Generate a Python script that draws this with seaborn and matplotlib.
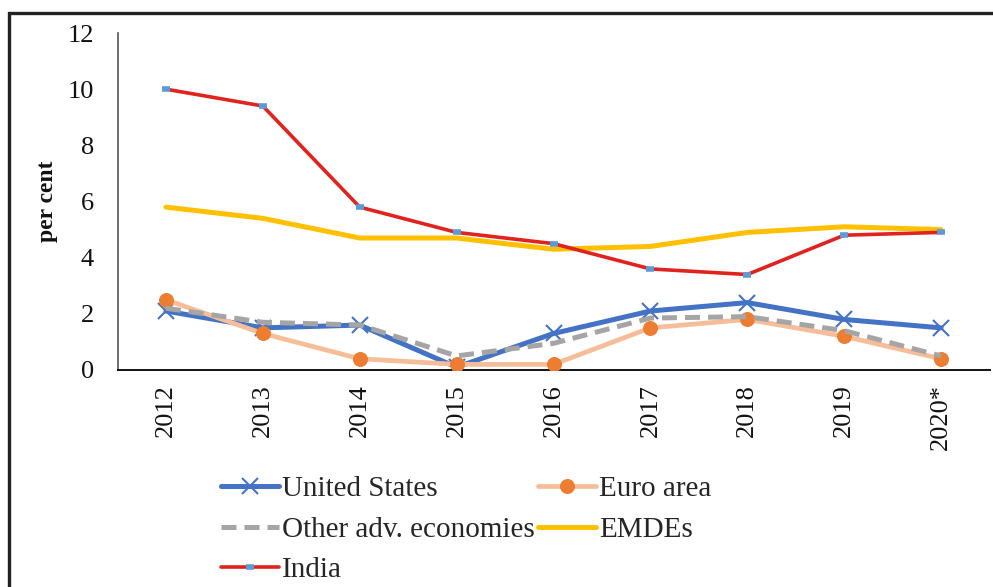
import matplotlib
matplotlib.use("Agg")
import matplotlib.pyplot as plt
from matplotlib.patches import Rectangle
import seaborn as sns
import pandas as pd

years = ["2012", "2013", "2014", "2015", "2016", "2017", "2018", "2019", "2020*"]
united_states = [2.1, 1.5, 1.6, 0.1, 1.3, 2.1, 2.4, 1.8, 1.5]
euro_area = [2.5, 1.3, 0.4, 0.2, 0.2, 1.5, 1.8, 1.2, 0.4]
other_adv = [2.2, 1.7, 1.6, 0.5, 0.95, 1.85, 1.9, 1.4, 0.5]
emdes = [5.8, 5.4, 4.7, 4.7, 4.3, 4.4, 4.9, 5.1, 5.0]
india = [10.0, 9.4, 5.8, 4.9, 4.5, 3.6, 3.4, 4.8, 4.9]
y_ticks = [0, 2, 4, 6, 8, 10, 12]

sns.set_theme(style="white")
plt.rcParams["font.family"] = ["Liberation Serif", "DejaVu Serif"]

fig = plt.figure(figsize=(9.93, 5.87), dpi=100)
fig.patch.set_facecolor("white")
ax = fig.add_axes([117.5 / 993, 1 - 370 / 587, 872 / 993, 337 / 587])

df = pd.DataFrame({"year": years, "United States": united_states,
                   "Euro area": euro_area, "Other adv. economies": other_adv,
                   "EMDEs": emdes, "India": india})

sns.lineplot(data=df, x="year", y="United States", ax=ax, color="#4472C4",
             lw=3.6, marker="x", markersize=12, mew=1.5, mec="#4472C4",
             zorder=3, label="United States", sort=False)
sns.lineplot(data=df, x="year", y="Euro area", ax=ax, color="#F6BE98",
             lw=3.4, marker="o", markersize=10, mfc="#ED7D31", mec="#ED7D31",
             zorder=4, label="Euro area", sort=False)
sns.lineplot(data=df, x="year", y="Other adv. economies", ax=ax, color="#A5A5A5",
             lw=3.6, dashes=(3, 1.6), zorder=4.5, label="Other adv. economies", sort=False)
sns.lineplot(data=df, x="year", y="EMDEs", ax=ax, color="#FFC000",
             lw=3.6, zorder=5, label="EMDEs", sort=False)
sns.lineplot(data=df, x="year", y="India", ax=ax, color="#E0231E",
             lw=2.6, marker="_", markersize=6, mew=4, mec="#5B9BD5",
             zorder=6, label="India", sort=False)

ax.set_xlim(-0.5, len(years) - 0.5)
ax.set_ylim(0, 12)
ax.set_yticks(y_ticks)
ax.set_yticklabels([str(v) for v in y_ticks], fontsize=19)
ax.set_xticks(range(len(years)))
ax.set_xticklabels(years, rotation=90, fontsize=19)
ax.tick_params(axis="y", length=0, pad=17, colors="#111111")
ax.tick_params(axis="x", length=0, pad=10, colors="#111111")
ax.set_xlabel("")
ax.set_ylabel("per cent", fontsize=17, fontweight="bold", color="#111111")
ax.yaxis.set_label_coords(-0.068, 0.5)
ax.grid(False)
ax.set_facecolor("white")
for s in ["top", "right"]:
    ax.spines[s].set_visible(False)
ax.spines["left"].set_color("#555555")
ax.spines["left"].set_linewidth(1.2)
ax.spines["bottom"].set_color("#111111")
ax.spines["bottom"].set_linewidth(1.4)

handles, labels = ax.get_legend_handles_labels()
order = [0, 2, 4, 1, 3]
ax.legend([handles[i] for i in order], [labels[i] for i in order],
          loc="upper left", bbox_to_anchor=(221 / 993, 1 - 476 / 587),
          bbox_transform=fig.transFigure, ncol=2, frameon=False,
          fontsize=21, handlelength=2.0, handletextpad=0.1,
          columnspacing=0.1, labelspacing=0.48, borderaxespad=0, borderpad=0)

fig.patches.append(Rectangle((9 / 993, -0.2), 1.5, 1.2 - 13 / 587, fill=False,
                             lw=2.4, edgecolor="#222222",
                             transform=fig.transFigure, figure=fig))

fig.savefig("out.png", dpi=100)
